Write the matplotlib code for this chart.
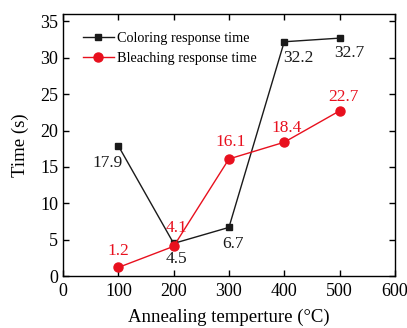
import matplotlib
matplotlib.use("Agg")
import matplotlib.pyplot as plt

# Annealing temperature (°C) and response times (s)
temps = [100, 200, 300, 400, 500]
coloring = [17.9, 4.5, 6.7, 32.2, 32.7]
bleaching = [1.2, 4.1, 16.1, 18.4, 22.7]

plt.rcParams["font.family"] = ["Liberation Serif", "DejaVu Serif"]

fig = plt.figure(figsize=(4.07, 3.28), dpi=100)
ax = fig.add_axes([0.155, 0.158, 0.815, 0.799])

ax.plot(temps, coloring, color="#1a1a1a", marker="s", markersize=5, lw=1.0,
        label="Coloring response time")
ax.plot(temps, bleaching, color="#e8101e", marker="o", markersize=6.5, lw=1.0,
        label="Bleaching response time")

# value labels: black below points, red above (offsets in points)
c_offsets = [(-8, -12), (2, -11), (3, -12), (10, -12), (7, -11)]
for x, y, (dx, dy) in zip(temps, coloring, c_offsets):
    ax.annotate(f"{y}", (x, y), xytext=(dx, dy), textcoords="offset points",
                ha="center", va="center", fontsize=12.5, color="#1a1a1a")
b_offsets = [(0, 12), (2, 13), (1, 12), (2, 10), (3, 10)]
for x, y, (dx, dy) in zip(temps, bleaching, b_offsets):
    ax.annotate(f"{y}", (x, y), xytext=(dx, dy), textcoords="offset points",
                ha="center", va="center", fontsize=12.5, color="#e8101e")

ax.set_xlim(0, 600)
ax.set_ylim(0, 36)
ax.set_xticks(range(0, 601, 100))
ax.set_yticks(range(0, 36, 5))
ax.tick_params(direction="in", length=4, width=1, labelsize=13,
               top=True, right=True)
ax.tick_params(axis="x", pad=5)
for s in ax.spines.values():
    s.set_linewidth(1.0)

ax.set_xlabel("Annealing temperture (°C)", fontsize=13.5, labelpad=6)
ax.set_ylabel("Time (s)", fontsize=13.5, labelpad=8)

ax.legend(loc="upper left", frameon=False, fontsize=10.3, handlelength=2.2,
          handletextpad=0.2, labelspacing=0.45, borderaxespad=0.5,
          bbox_to_anchor=(0.02, 0.98))

fig.savefig("out.png", dpi=100)
